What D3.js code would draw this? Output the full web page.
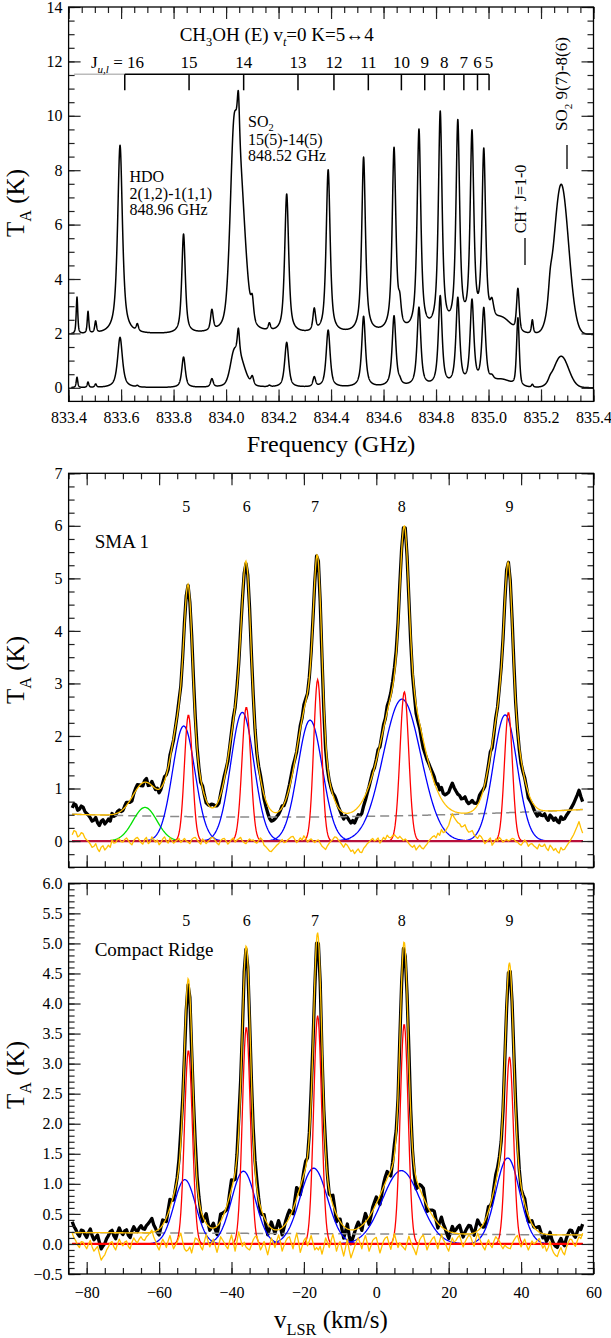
<!DOCTYPE html>
<html>
<head>
<meta charset="utf-8">
<script src="https://cdn.jsdelivr.net/npm/d3@7"></script>
<style>
  body { margin: 0; background: #fff; }
  svg { display: block; }
  svg text { font-family: "Liberation Serif", "DejaVu Serif", serif; }
</style>
</head>
<body>
<svg width="611" height="1338"></svg>
<script>
// ---------- top panel: spectra of the two positions ----------
const freqMajor = [833.4, 833.6, 833.8, 834.0, 834.2, 834.4, 834.6, 834.8, 835.0, 835.2, 835.4];
const tempMajorTop = [0, 2, 4, 6, 8, 10, 12, 14];
// line list: centre (GHz), peak above base (upper, lower spectrum), half width, lorentz fraction
const lineFreq  = [833.432, 833.474, 833.503, 833.596, 833.662, 833.838, 833.946, 834.028, 834.052, 834.047, 834.100, 834.165,
                   834.231, 834.336, 834.389, 834.524, 834.640, 834.662, 834.735, 834.816, 834.883, 834.937, 834.982, 835.013,
                   835.050, 835.112, 835.167, 835.235, 835.277];
const lineUpper = [1.35, 0.8, 0.42, 6.95, 0.25, 3.65, 0.75, 4.8, 5.5, 1.7, 0.7, 0.25,
                   5.1, 0.8, 6.0, 6.45, 6.75, 0.7, 7.4, 8.0, 7.6, 7.15, 6.5, 0.6,
                   0.5, 1.55, 0.5, 0.6, 5.5];
const lineLower = [0.38, 0.2, 0.12, 1.85, 0.05, 1.12, 0.3, 0.8, 1.0, 0.9, 0.3, 0.05,
                   1.65, 0.35, 2.1, 2.6, 2.6, 0.1, 2.9, 3.3, 3.2, 3.1, 2.8, 0.15,
                   0.25, 2.5, 0.1, 0.1, 1.15];
const lineHalfWidth = [0.0035, 0.0035, 0.004, 0.011, 0.005, 0.008, 0.006, 0.016, 0.025, 0.005, 0.006, 0.005,
                       0.009, 0.006, 0.009, 0.0085, 0.0085, 0.006, 0.0085, 0.0085, 0.0085, 0.0085, 0.0085, 0.008,
                       0.04, 0.006, 0.004, 0.008, 0.033];
const lineLorentz = [0.6, 0.6, 0.6, 0.75, 0.6, 0.7, 0.6, 0.4, 0.3, 0.6, 0.6, 0.6,
                     0.7, 0.6, 0.7, 0.8, 0.8, 0.6, 0.8, 0.8, 0.8, 0.8, 0.8, 0.6,
                     0, 0.5, 0.6, 0.6, 0];
const upperOffset = 1.95;
const lowerOffset = 0.0;
const jLevels = [16, 15, 14, 13, 12, 11, 10, 9, 8, 7, 6, 5];
const jFreq = [833.614, 833.859, 834.067, 834.274, 834.411, 834.542, 834.668, 834.757, 834.831, 834.906, 834.958, 835.002];

// ---------- lower panels: velocity spectra ----------
const velMajor = [-80, -60, -40, -20, 0, 20, 40, 60];
const kLabels = ["5", "6", "7", "8", "9"];
const kVel = [-52.5, -35.8, -16.9, 7.0, 36.8];
const residStart = -84;  // first channel (km/s)
const residStep = 0.5;   // channel width (km/s)

const sma1BlueV = [-53.2, -37.0, -18.3, 7.1, 35.6];
const sma1BlueA = [2.19, 2.45, 2.30, 2.70, 2.40];
const sma1BlueS = [3.1, 3.2, 3.4, 5.2, 3.3];
const sma1RedV = [-51.9, -35.9, -16.2, 7.75, 36.5];
const sma1RedA = [2.40, 2.55, 3.07, 2.84, 2.45];
const sma1RedS = [1.1, 1.2, 1.1, 1.2, 1.1];
const sma1GreenV = [-63.9];
const sma1GreenA = [0.64];
const sma1GreenS = [3.3];
const sma1BaseV = [-84, -15, 57];
const sma1BaseT = [0.51, 0.46, 0.60];
const sma1Resid = [
  0.12, 0.20, 0.18, 0.08, 0.10, 0.16, 0.14, 0.06, 0.02, -0.01,
  -0.06, -0.12, -0.10, -0.05, -0.15, -0.20, -0.12, -0.09, -0.17, -0.13,
  -0.08, -0.12, 0.02, -0.04, -0.03, 0.03, 0.04, -0.01, -0.02, 0.03,
  0.06, 0.01, -0.04, -0.07, 0.01, 0.05, 0.07, 0.02, -0.03, -0.06,
  0.03, 0.07, -0.05, -0.02, 0.08, 0.03, -0.02, 0.02, -0.07, -0.03,
  0.04, 0.08, 0.00, -0.04, 0.06, 0.01, -0.04, -0.01, 0.02, 0.05,
  -0.03, 0.01, 0.05, 0.00, -0.02, -0.05, 0.03, 0.06, 0.07, 0.02,
  -0.02, -0.06, 0.04, 0.00, -0.05, -0.01, 0.02, 0.07, 0.06, 0.01,
  -0.04, -0.07, 0.01, 0.04, 0.05, 0.00, -0.06, -0.02, 0.03, 0.06,
  -0.02, 0.02, 0.04, 0.07, 0.00, -0.03, -0.05, 0.00, 0.04, 0.01,
  0.02, -0.02, -0.04, 0.01, 0.06, 0.02, -0.08, -0.11, -0.15, -0.19,
  -0.20, -0.16, -0.12, -0.08, -0.05, -0.01, 0.03, -0.03, -0.02, 0.02,
  0.05, 0.08, 0.09, 0.03, -0.03, 0.01, 0.06, 0.02, 0.10, 0.05,
  -0.02, 0.02, 0.04, 0.00, -0.03, 0.01, 0.02, -0.04, -0.10, -0.13,
  -0.16, -0.09, -0.04, 0.00, 0.03, 0.08, 0.07, 0.02, -0.02, -0.07,
  -0.12, -0.05, -0.08, -0.14, -0.20, -0.17, -0.24, -0.19, -0.15, -0.21,
  -0.22, -0.14, -0.10, -0.05, -0.02, 0.02, 0.05, 0.00, 0.02, 0.06,
  -0.04, 0.01, 0.07, 0.03, 0.11, 0.07, 0.06, 0.10, 0.12, 0.08,
  0.05, 0.09, 0.05, 0.01, 0.04, 0.00, -0.05, -0.09, -0.12, -0.08,
  -0.17, -0.12, -0.08, -0.13, -0.15, -0.10, -0.06, 0.00, 0.04, 0.08,
  0.10, 0.06, 0.15, 0.11, 0.22, 0.16, 0.18, 0.24, 0.30, 0.42,
  0.52, 0.45, 0.40, 0.35, 0.33, 0.27, 0.28, 0.31, 0.22, 0.17,
  0.18, 0.20, 0.12, 0.08, 0.05, 0.11, 0.08, 0.02, -0.05, -0.01,
  0.02, 0.06, -0.08, -0.03, 0.04, 0.00, 0.07, 0.03, -0.02, 0.01,
  0.03, 0.00, 0.02, 0.05, 0.04, -0.01, -0.02, -0.06, -0.08, -0.03,
  0.02, -0.02, -0.10, -0.06, -0.05, -0.09, -0.12, -0.15, -0.06, -0.10,
  -0.10, -0.06, -0.14, -0.18, -0.08, -0.12, -0.18, -0.14, -0.20, -0.23,
  -0.12, -0.17, -0.16, -0.10, -0.05, 0.00, 0.06, 0.12, 0.20, 0.28,
  0.37, 0.25, 0.15];

const crBlueV = [-52.9, -36.7, -17.3, 6.9, 36.3];
const crBlueA = [1.07, 1.21, 1.26, 1.22, 1.43];
const crBlueS = [3.0, 3.3, 3.8, 5.2, 3.3];
const crRedV = [-51.9, -35.9, -16.2, 7.7, 36.8];
const crRedA = [3.22, 3.61, 3.80, 3.66, 3.11];
const crRedS = [1.1, 1.1, 1.1, 1.1, 1.1];
const crBaseV = [-84, -15, 57];
const crBaseT = [0.19, 0.17, 0.15];
const crResid = [
  0.18, 0.10, 0.05, -0.02, -0.06, 0.04, 0.03, -0.03, -0.08, 0.00,
  0.06, -0.05, -0.12, -0.08, -0.04, -0.16, -0.27, -0.22, -0.18, -0.10,
  -0.05, 0.02, 0.04, -0.05, -0.10, 0.00, 0.08, 0.01, -0.03, 0.03,
  0.05, -0.04, -0.08, 0.03, 0.10, 0.05, 0.02, 0.08, 0.12, 0.07,
  0.06, 0.12, 0.15, 0.19, 0.23, 0.12, 0.05, -0.04, -0.10, 0.00,
  0.08, 0.02, -0.06, 0.05, 0.14, 0.02, -0.08, -0.02, 0.03, 0.11,
  0.18, 0.04, -0.08, -0.12, -0.10, -0.05, -0.15, -0.02, 0.10, 0.08,
  0.04, -0.05, -0.10, 0.04, 0.16, 0.05, -0.05, 0.02, 0.08, -0.03,
  -0.14, -0.02, 0.12, 0.07, 0.02, -0.04, -0.08, 0.05, 0.15, 0.02,
  -0.12, 0.04, 0.20, 0.08, -0.04, 0.03, -0.05, -0.08, -0.10, -0.02,
  0.07, 0.12, 0.13, 0.02, -0.10, -0.04, 0.04, -0.07, -0.18, -0.05,
  0.10, 0.03, -0.06, 0.05, 0.15, 0.04, -0.12, -0.03, 0.05, 0.10,
  0.12, 0.02, -0.08, 0.06, 0.18, 0.04, -0.14, -0.04, 0.06, 0.10,
  -0.03, 0.05, 0.14, 0.02, -0.10, -0.06, -0.10, -0.04, -0.17, -0.05,
  0.10, 0.03, -0.06, 0.05, 0.16, 0.04, -0.12, -0.02, 0.04, -0.08,
  -0.20, -0.06, 0.08, -0.10, -0.23, -0.14, -0.05, 0.04, 0.10, 0.02,
  -0.08, 0.05, 0.14, 0.02, -0.12, -0.04, 0.06, 0.09, 0.11, -0.02,
  -0.15, -0.05, 0.05, 0.10, 0.12, 0.01, -0.09, 0.04, 0.17, 0.05,
  -0.06, 0.02, -0.03, -0.06, -0.10, 0.02, 0.13, 0.04, -0.04, -0.10,
  -0.18, -0.05, 0.07, 0.12, 0.15, 0.03, -0.10, -0.02, 0.04, 0.09,
  0.12, 0.02, -0.08, 0.05, 0.16, 0.07, 0.02, -0.06, -0.12, 0.00,
  0.10, 0.03, 0.06, 0.11, 0.14, 0.04, -0.05, 0.03, 0.09, 0.14,
  0.13, 0.04, -0.04, 0.08, 0.18, 0.09, 0.02, -0.05, -0.10, 0.00,
  0.07, -0.02, -0.06, 0.05, 0.12, 0.08, 0.05, -0.03, -0.08, -0.02,
  -0.05, -0.07, -0.08, 0.00, 0.06, 0.11, 0.14, 0.03, -0.05, 0.02,
  0.08, -0.02, -0.10, -0.03, 0.05, 0.00, 0.02, 0.06, 0.09, 0.01,
  -0.07, -0.02, -0.12, -0.06, 0.04, -0.08, -0.15, -0.19, -0.21, -0.12,
  -0.06, -0.14, -0.18, -0.06, 0.02, 0.08, 0.07, 0.00, -0.04, 0.05,
  0.12, 0.09, 0.18];

// ---------- drawing ----------
const svg = d3.select("svg");
const left = 68.6, right = 593.5;

// text with sub/superscripts; parts = [[string, kind]]
function richText(parent, x, y, parts, size, anchor) {
  const t = parent.append("text")
    .attr("x", x).attr("y", y)
    .attr("font-size", size)
    .attr("text-anchor", anchor || "start").attr("fill", "#000");
  let shift = 0;
  parts.forEach(([s, k]) => {
    const sp = t.append("tspan").text(s);
    let target = 0;
    if (k === "sub" || k === "subi") target = size * 0.28;
    if (k === "sup") target = -size * 0.4;
    sp.attr("dy", target - shift);
    shift = target;
    if (k) sp.attr("font-size", size * 0.65);
    if (k === "subi") sp.attr("font-style", "italic");
  });
  return t;
}

// frame with inward ticks on all four sides
function frame(x, y, xMaj, xMin, yMaj, yMin, xFmt, yFmt, xPad) {
  const [x0, x1] = x.range();
  const [yb, yt] = y.range();
  const g = svg.append("g");
  const ax = (gen, vals, size, fmt, tx, ty, pad) => {
    const a = g.append("g")
      .attr("transform", `translate(${tx},${ty})`)
      .call(gen.tickValues(vals).tickSize(-size).tickPadding(pad || 6)
        .tickFormat(fmt || (() => "")));
    a.select(".domain").remove();
    a.selectAll("line").attr("stroke", "#222").attr("stroke-width", 1.2);
    a.selectAll("text").attr("font-size", 16).attr("fill", "#000");
  };
  ax(d3.axisBottom(x), xMin, 6, null, 0, yb);
  ax(d3.axisBottom(x), xMaj, 12, xFmt, 0, yb, xPad);
  ax(d3.axisTop(x), xMin, 6, null, 0, yt);
  ax(d3.axisTop(x), xMaj, 12, null, 0, yt);
  ax(d3.axisLeft(y), yMin, 6, null, x0, 0);
  ax(d3.axisLeft(y), yMaj, 12, yFmt, x0, 0, 6);
  ax(d3.axisRight(y), yMin, 6, null, x1, 0);
  ax(d3.axisRight(y), yMaj, 12, null, x1, 0);
  g.append("rect")
    .attr("x", x0).attr("y", yt).attr("width", x1 - x0).attr("height", yb - yt)
    .attr("fill", "none").attr("stroke", "#000").attr("stroke-width", 1.3);
}

function clipFor(id, x, y) {
  const [x0, x1] = x.range();
  const [yb, yt] = y.range();
  svg.append("clipPath").attr("id", id).append("rect")
    .attr("x", x0).attr("y", yt).attr("width", x1 - x0).attr("height", yb - yt);
  return svg.append("g").attr("clip-path", `url(#${id})`);
}

// ===== top panel =====
const xF = d3.scaleLinear().domain([833.4, 835.4]).range([left, right]);
const yTop = d3.scaleLinear().domain([-0.5, 14]).range([401.4, 7]);

const profile = (f, i, amps) => {
  const u = (f - lineFreq[i]) / lineHalfWidth[i];
  const e = lineLorentz[i];
  return amps[i] * (e / (1 + u * u) + (1 - e) * Math.exp(-Math.LN2 * u * u));
};
const freqGrid = d3.range(833.41, 835.4, 0.0005);
const upperSpec = freqGrid.map(f => [f, upperOffset + d3.sum(lineFreq, (_, i) => profile(f, i, lineUpper))]);
const lowerSpec = freqGrid.map(f => [f, lowerOffset + d3.sum(lineFreq, (_, i) => profile(f, i, lineLower))]);

const gTop = clipFor("clipTop", xF, yTop);
const lineTop = d3.line().x(d => xF(d[0])).y(d => yTop(d[1]));
[upperSpec, lowerSpec].forEach(s => {
  gTop.append("path").attr("d", lineTop(s))
    .attr("fill", "none").attr("stroke", "#000").attr("stroke-width", 1.5).attr("stroke-linejoin", "round");
});

frame(xF, yTop, freqMajor, d3.range(833.4, 835.401, 0.05), tempMajorTop, d3.range(0, 14.01, 0.5),
  d3.format(".1f"), d3.format("d"), 10);

// CH3OH ladder
richText(svg, 276.7, 41, [["CH"], ["3", "sub"], ["OH (E) v"], ["t", "subi"], ["=0 K=5"], ["\u2194"], ["4"]], 19, "middle");
const ladderY = 74.3;
svg.append("line").attr("x1", 74).attr("x2", xF(jFreq[0])).attr("y1", ladderY).attr("y2", ladderY)
  .attr("stroke", "#bbb").attr("stroke-width", 1.5);
svg.append("line").attr("x1", xF(jFreq[0])).attr("x2", xF(jFreq[jFreq.length - 1])).attr("y1", ladderY).attr("y2", ladderY)
  .attr("stroke", "#000").attr("stroke-width", 1.5);
svg.append("g").selectAll("line").data(jFreq).join("line")
  .attr("x1", d => xF(d)).attr("x2", d => xF(d)).attr("y1", ladderY).attr("y2", ladderY + 16)
  .attr("stroke", "#000").attr("stroke-width", 1.5);
richText(svg, 144, 68, [["J"], ["u,l", "subi"], [" = 16"]], 17, "end");
svg.append("g").selectAll("text").data(jLevels.slice(1)).join("text")
  .attr("x", (d, i) => xF(jFreq[i + 1])).attr("y", 68)
  .attr("text-anchor", "middle").attr("font-size", 17)
  .text(d => d);

// line annotations
richText(svg, 248, 127, [["SO"], ["2", "sub"]], 16);
richText(svg, 248, 145, [["15(5)-14(5)"]], 16);
richText(svg, 248, 161, [["848.52 GHz"]], 16);
richText(svg, 129.5, 182, [["HDO"]], 16);
richText(svg, 129.5, 199, [["2(1,2)-1(1,1)"]], 16);
richText(svg, 129.5, 215, [["848.96 GHz"]], 16);

const so2Lbl = svg.append("g").attr("transform", "translate(567,84) rotate(-90)");
richText(so2Lbl, 0, 0, [["SO"], ["2", "sub"], [" 9(7)-8(6)"]], 17, "middle").attr("dy", "0.35em");
svg.append("line").attr("x1", 567).attr("x2", 567).attr("y1", 145).attr("y2", 169).attr("stroke", "#000").attr("stroke-width", 1.3);
const chLbl = svg.append("g").attr("transform", "translate(526,199) rotate(-90)");
richText(chLbl, 0, 0, [["CH"], ["+", "sup"], [" J=1-0"]], 16, "middle").attr("dy", "0.35em");
svg.append("line").attr("x1", 525).attr("x2", 525).attr("y1", 238).attr("y2", 265).attr("stroke", "#000").attr("stroke-width", 1.3);

richText(svg, 331, 452, [["Frequency (GHz)"]], 24, "middle");
const yl1 = svg.append("g").attr("transform", "translate(24,203) rotate(-90)");
richText(yl1, 0, 0, [["T"], ["A", "sub"], [" (K)"]], 25, "middle").attr("dy", "0.35em");

// ===== velocity panels =====
const xV = d3.scaleLinear().domain([-85, 60]).range([left, right]);
const gauss = (v, c, a, s) => a * Math.exp(-0.5 * ((v - c) / s) ** 2);
const quad3 = (xs, ys) => v => ys.reduce((s, yi, i) =>
  s + yi * xs.reduce((p, xj, j) => (j === i ? p : p * (v - xj) / (xs[i] - xj)), 1), 0);
const velGrid = d3.range(-84, 57.01, 0.2);

function velPanel(c) {
  const y = c.y;
  const base = quad3(c.baseV, c.baseT);
  const comps = [];
  (c.greenV || []).forEach((v, i) => comps.push({ col: "#00e000", c: v, a: c.greenA[i], s: c.greenS[i] }));
  c.blueV.forEach((v, i) => comps.push({ col: "#0000ff", c: v, a: c.blueA[i], s: c.blueS[i] }));
  c.redV.forEach((v, i) => comps.push({ col: "#ff0000", c: v, a: c.redA[i], s: c.redS[i] }));
  const fit = v => base(v) + d3.sum(comps, k => gauss(v, k.c, k.a, k.s));

  const chan = i => residStart + i * residStep;
  const obs = c.resid.map((r, i) => [chan(i), fit(chan(i)) + r]);
  const res = c.resid.map((r, i) => [chan(i), r]);
  const line = d3.line().x(d => xV(d[0])).y(d => y(d[1]));
  const g = clipFor(c.id, xV, y);

  g.append("path").attr("d", line(obs)).attr("fill", "none")
    .attr("stroke", "#000").attr("stroke-width", 3.3).attr("stroke-linejoin", "round");
  g.append("path").attr("d", line(velGrid.map(v => [v, base(v)]))).attr("fill", "none")
    .attr("stroke", "#8a8a8a").attr("stroke-width", 1.5).attr("stroke-dasharray", "9,5");
  comps.forEach(k => {
    g.append("path").attr("d", line(velGrid.map(v => [v, gauss(v, k.c, k.a, k.s)])))
      .attr("fill", "none").attr("stroke", k.col).attr("stroke-width", 1.3);
  });
  g.append("line").attr("x1", xV(-84)).attr("x2", xV(57)).attr("y1", y(0)).attr("y2", y(0))
    .attr("stroke", c.zeroCol).attr("stroke-width", 2.2);
  g.append("path").attr("d", line(velGrid.map(v => [v, fit(v)]))).attr("fill", "none")
    .attr("stroke", "#ffc000").attr("stroke-width", 1.3);
  g.append("path").attr("d", line(res)).attr("fill", "none")
    .attr("stroke", "#ffc000").attr("stroke-width", 1.3).attr("stroke-linejoin", "round");

  frame(xV, y, velMajor, d3.range(-85, 60.01, 5), c.yMaj, c.yMin,
    c.xLabels ? d3.format("d") : null, c.yFmt, 12.5);

  svg.append("g").selectAll("text").data(kLabels).join("text")
    .attr("x", (d, i) => xV(kVel[i])).attr("y", c.numY)
    .attr("text-anchor", "middle").attr("font-size", 16)
    .text(d => d);
  richText(svg, 94.7, c.nameY, [[c.name]], 19);
  const yl = svg.append("g").attr("transform", `translate(24,${c.titleY}) rotate(-90)`);
  richText(yl, 0, 0, [["T"], ["A", "sub"], [" (K)"]], 25, "middle").attr("dy", "0.35em");
}

velPanel({
  id: "clipMid", y: d3.scaleLinear().domain([-0.5, 7]).range([867.3, 473.3]),
  blueV: sma1BlueV, blueA: sma1BlueA, blueS: sma1BlueS,
  redV: sma1RedV, redA: sma1RedA, redS: sma1RedS,
  greenV: sma1GreenV, greenA: sma1GreenA, greenS: sma1GreenS,
  baseV: sma1BaseV, baseT: sma1BaseT, resid: sma1Resid,
  yMaj: d3.range(0, 7.01, 1), yMin: d3.range(-0.5, 7.01, 0.25), yFmt: d3.format("d"),
  zeroCol: "#b8103c", numY: 512, name: "SMA 1", nameY: 548, titleY: 670, xLabels: false
});

velPanel({
  id: "clipBot", y: d3.scaleLinear().domain([-0.5, 6]).range([1274, 883.3]),
  blueV: crBlueV, blueA: crBlueA, blueS: crBlueS,
  redV: crRedV, redA: crRedA, redS: crRedS,
  baseV: crBaseV, baseT: crBaseT, resid: crResid,
  yMaj: d3.range(-0.5, 6.01, 0.5), yMin: d3.range(-0.5, 6.01, 0.1), yFmt: d3.format(".1f"),
  zeroCol: "#ff0000", numY: 925.5, name: "Compact Ridge", nameY: 955.5, titleY: 1075, xLabels: true
});

richText(svg, 331, 1328, [["v"], ["LSR", "sub"], [" (km/s)"]], 25, "middle");
</script>
</body>
</html>
